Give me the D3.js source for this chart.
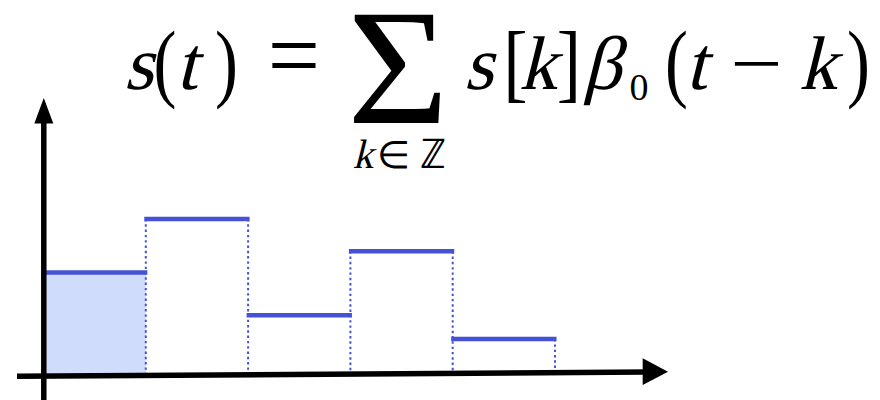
<!DOCTYPE html>
<html>
<head>
<meta charset="utf-8">
<script src="https://cdn.jsdelivr.net/npm/d3@7"></script>
<style>
  html, body { margin: 0; padding: 0; background: #fff; }
  svg { display: block; }
</style>
</head>
<body>
<svg id="chart" width="880" height="400"></svg>
<script>
// Sample index k and the sample values s[k]
const samples = [0, 1, 2, 3, 4];
const values = [1.97, 3.0, 1.15, 2.38, 0.69];
// Only the first box is shaded (the k = 0 term)
const shaded = [true, false, false, false, false];

const svg = d3.select("#chart");

const x = d3.scaleLinear().domain([0, 5]).range([43.5, 555]);
const y = d3.scaleLinear().domain([0, 3]).range([375, 219]);

// horizontal axis runs very slightly uphill to the right
const axisY0 = 376.2, axisSlope = -0.0068;
const axisYAt = px => axisY0 + axisSlope * (px - 40);

const blue = "#4552D6";
const fill = "#D0DCFB";

// shaded area of the first box
svg.selectAll("rect.fill")
  .data(samples.filter((d, i) => shaded[i]))
  .join("rect")
  .attr("class", "fill")
  .attr("x", d => x(d))
  .attr("width", d => x(d + 1) - x(d))
  .attr("y", d => y(values[d]))
  .attr("height", d => axisYAt(x(d)) - y(values[d]))
  .attr("fill", fill);

// dotted box edges: each boundary rises to the taller neighbour
const edges = d3.range(1, samples.length + 1).map(e => {
  const left = values[e - 1];
  const right = e < samples.length ? values[e] : 0;
  return { e, top: Math.max(left, right) };
});
svg.selectAll("line.edge")
  .data(edges)
  .join("line")
  .attr("class", "edge")
  .attr("x1", d => x(d.e)).attr("x2", d => x(d.e))
  .attr("y1", d => y(d.top))
  .attr("y2", d => axisYAt(x(d.e)))
  .attr("stroke", blue)
  .attr("stroke-width", 2)
  .attr("stroke-dasharray", "2.4 2.9");

// box tops (the piecewise-constant signal)
svg.selectAll("line.top")
  .data(samples)
  .join("line")
  .attr("class", "top")
  .attr("x1", d => x(d) - 1.5).attr("x2", d => x(d + 1) + 1.5)
  .attr("y1", d => y(values[d])).attr("y2", d => y(values[d]))
  .attr("stroke", blue)
  .attr("stroke-width", 4.5);

// axes with arrow heads
const axisX = 43.8;
svg.append("line")
  .attr("x1", axisX).attr("x2", axisX)
  .attr("y1", 400).attr("y2", 118)
  .attr("stroke", "#000").attr("stroke-width", 5.5);
svg.append("path")
  .attr("d", `M${axisX - 9.5},123.5 L${axisX},98 L${axisX + 9.5},123.5 Z`)
  .attr("fill", "#000");

svg.append("line")
  .attr("x1", 17).attr("x2", 648)
  .attr("y1", axisYAt(17)).attr("y2", axisYAt(648))
  .attr("stroke", "#000").attr("stroke-width", 5.5);
svg.append("path")
  .attr("d", `M642.7,358.3 L668,371.7 L642.7,385 Z`)
  .attr("fill", "#000");

// formula: s(t) = Σ_{k∈ℤ} s[k] β0(t − k)
// Math-italic letters are slanted serif glyphs; each glyph is centred on cx.
const slant = -14;
const glyphs = [
  { t: "s", cx: 138.5, y: 89, size: 76, it: true },
  { t: "(", cx: 165, y: 91, size: 86, sx: 0.8 },
  { t: "t", cx: 186.5, y: 89, size: 76, it: true },
  { t: ")", cx: 226.5, y: 91, size: 86, sx: 0.8 },
  { t: "=", cx: 294, y: 89, size: 76, sx: 1.22, sy: 1.3 },
  { t: "Σ", cx: 398, y: 123, size: 166, sx: 1.05 },
  { t: "s", cx: 478.5, y: 89, size: 76, it: true },
  { t: "[", cx: 515.5, y: 91, size: 86, sx: 0.85 },
  { t: "k", cx: 538, y: 89, size: 76, it: true },
  { t: "]", cx: 569, y: 91, size: 86, sx: 0.85 },
  { t: "β", cx: 602, y: 89, size: 76, it: true },
  { t: "0", cx: 639, y: 100, size: 38 },
  { t: "(", cx: 676.5, y: 91, size: 86, sx: 0.8 },
  { t: "t", cx: 696, y: 89, size: 76, it: true },
  { t: "−", cx: 756.5, y: 89, size: 76, sx: 1.22 },
  { t: "k", cx: 818, y: 89, size: 76, it: true },
  { t: ")", cx: 858.5, y: 91, size: 86, sx: 0.8 },
  // limits under the sum
  { t: "k", cx: 363, y: 168, size: 41, it: true },
  { t: "∈", cx: 393, y: 168, size: 38 },
  { t: "ℤ", cx: 433, y: 168, size: 41 }
];
svg.selectAll("g.glyph")
  .data(glyphs)
  .join("g")
  .attr("class", "glyph")
  .attr("transform", d => {
    let tr = `translate(${d.cx},${d.y})`;
    if (d.it) tr += ` skewX(${slant})`;
    if (d.sx || d.sy) tr += ` scale(${d.sx || 1},${d.sy || 1})`;
    return tr;
  })
  .append("text")
  .style("font-family", "'Liberation Serif'")
  .style("font-style", "normal")
  .attr("fill", "#000")
  .attr("text-anchor", "middle")
  .attr("font-size", d => d.size)
  .text(d => d.t);
</script>
</body>
</html>
